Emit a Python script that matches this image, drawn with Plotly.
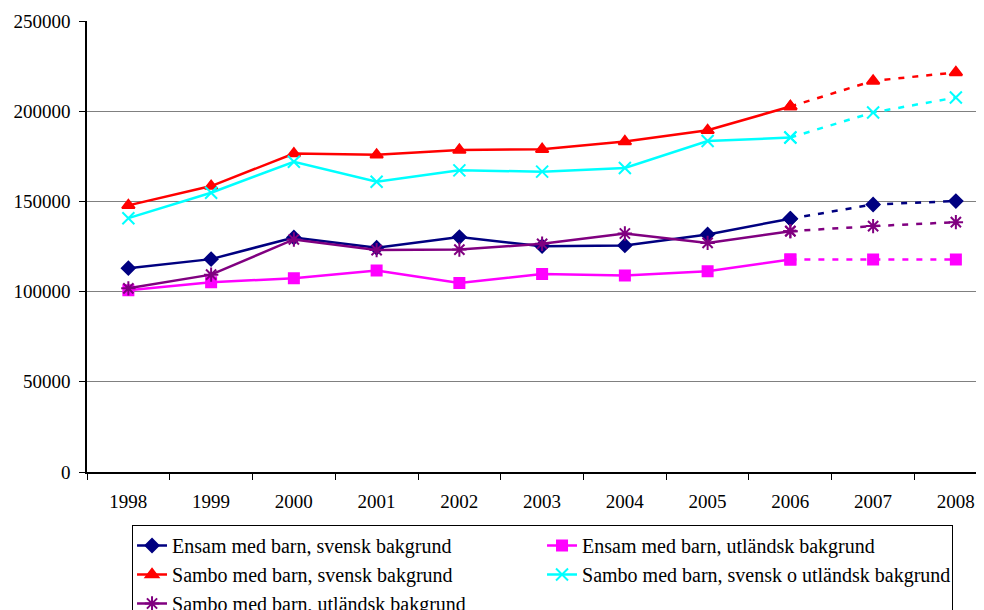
import plotly.graph_objects as go

years = ["1998", "1999", "2000", "2001", "2002", "2003", "2004", "2005", "2006", "2007", "2008"]

ensam_svensk = [113000, 118000, 130000, 124300, 130200, 125200, 125600, 131700, 140400, 148300, 150200]
ensam_utl = [100700, 105200, 107400, 111700, 104800, 109800, 108900, 111300, 117800, 117800, 117800]
sambo_svensk = [147800, 158500, 176500, 175800, 178500, 178900, 183200, 189400, 202600, 216800, 221500]
sambo_sv_utl = [140700, 154800, 172000, 160900, 167200, 166500, 168500, 183500, 185400, 199300, 207600]
sambo_utl = [101800, 109400, 128900, 123000, 123300, 126500, 132200, 127000, 133500, 136300, 138500]

names = [
    "Ensam med barn, svensk bakgrund",
    "Ensam med barn, utländsk bakgrund",
    "Sambo med barn, svensk bakgrund",
    "Sambo med barn, svensk o utländsk bakgrund",
    "Sambo med barn, utländsk bakgrund",
]
series = [ensam_svensk, ensam_utl, sambo_svensk, sambo_sv_utl, sambo_utl]
colors = ["#000080", "#FF00FF", "#FF0000", "#00FFFF", "#800080"]
symbols = ["diamond", "square", "triangle-up", "x-thin-open", "asterisk-open"]
sizes = [10, 10, 11, 12, 12]

split = 8  # index of 2006: solid up to here, dashed afterwards

fig = go.Figure()
for name, vals, c, s, sz in zip(names, series, colors, symbols, sizes):
    marker = dict(color=c, symbol=s, size=sz, line=dict(color=c, width=2))
    fig.add_trace(go.Scatter(
        x=years[:split + 1], y=vals[:split + 1], name=name, mode="lines+markers",
        line=dict(color=c, width=2.5), marker=marker, legendgroup=name,
    ))
    fig.add_trace(go.Scatter(
        x=years[split:], y=vals[split:], name=name, mode="lines+markers",
        line=dict(color=c, width=2.5, dash="6px,8px"), marker=marker,
        legendgroup=name, showlegend=False,
    ))

font = "Liberation Serif, Times New Roman, serif"
fig.update_layout(
    width=984, height=610,
    margin=dict(l=79, r=8, t=13, b=146, autoexpand=False),
    paper_bgcolor="white", plot_bgcolor="white",
    font=dict(family=font, size=19, color="black"),
    showlegend=True,
    legend=dict(
        orientation="h", x=0.0502, xanchor="left", y=-0.1175, yanchor="top",
        entrywidth=365, entrywidthmode="pixels",
        bordercolor="black", borderwidth=1, bgcolor="white",
        font=dict(family=font, size=20, color="black"),
        tracegroupgap=0, itemwidth=30,
    ),
)
fig.update_xaxes(
    type="category", range=[-0.5, 10.34],
    showline=True, linecolor="black", linewidth=1.5,
    ticks="outside", tickson="boundaries", ticklen=6, tickcolor="black",
    showgrid=False, zeroline=False, ticklabelstandoff=11,
    tickfont=dict(family=font, size=19, color="black"),
)
fig.update_yaxes(
    range=[0, 250000], tickvals=[0, 50000, 100000, 150000, 200000, 250000],
    ticktext=["0", "50000", "100000", "150000", "200000", "250000"],
    showline=True, linecolor="black", linewidth=1.5,
    ticks="outside", ticklen=6, tickcolor="black",
    showgrid=True, gridcolor="#808080", gridwidth=1, zeroline=False,
    ticklabelstandoff=5,
    tickfont=dict(family=font, size=19, color="black"),
)

fig.write_html("out.html")
